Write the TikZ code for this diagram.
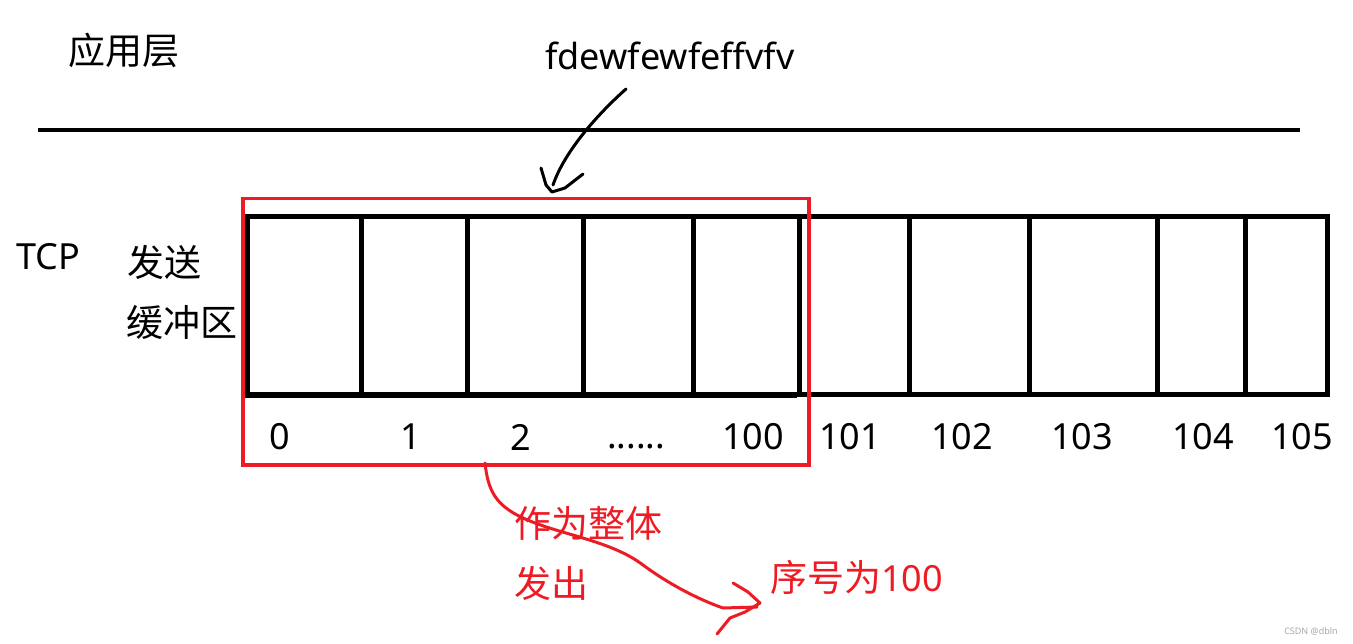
\documentclass[tikz,border=0pt]{standalone}
\usepackage{fontspec}
\setmainfont{Noto Sans}
\newfontfamily\cjk{Noto Sans CJK SC}
\definecolor{pred}{RGB}{237,28,36}
\tikzset{
  big/.style={font=\fontsize{36}{40}\selectfont, inner sep=0pt},
  bigcjk/.style={font=\cjk\fontsize{37}{40}\selectfont, inner sep=0pt},
  cellbox/.style={draw=black, line width=5pt, minimum height=178pt, anchor=north west, inner sep=0pt},
  redline/.style={draw=pred, line width=3.5pt},
  hand/.style={line width=3pt, line cap=round, line join=round},
}
\begin{document}
\begin{tikzpicture}[x=1pt,y=-1pt]
\useasboundingbox (0,0) rectangle (1353,644);
% top separator line
\coordinate (sepL) at (38,130);
\coordinate (sepR) at (1300,130);
\draw[line width=4pt] (sepL) -- (sepR);
% texts
\node[bigcjk] (app) at (124,50) {应用层};
\node[big] (data) at (670,56) {fdewfewfeffvfv};
\node[big] (tcp) at (48,257) {TCP};
\node[bigcjk] (send) at (164,262) {发送};
\node[bigcjk] (buf) at (182,323) {缓冲区};
% cells
\foreach \a/\b/\n in {245/359/0,359/465/1,465/581/2,581/691/3,691/797/4,797/907/5,907/1027/6,1027/1155/7,1155/1243/8,1243/1325/9}{
  \pgfmathsetmacro{\w}{\b-\a}
  \node[cellbox, minimum width=\w pt] (c\n) at (\a,214) {};
}
\draw[line width=4pt] (c0.south west) ++(0,-1) -- ++(552,0);
% labels
\node[big] (l0) at (280,437) {0};
\node[big] (l1) at (411,437) {1};
\node[big] (l2) at (521,437) {2};
\node[big, anchor=base] (ld) at (636,449) {......};
\node[big] (l100) at (753,437) {100};
\node[big] (l101) at (850,437) {101};
\node[big] (l102) at (962,437) {102};
\node[big] (l103) at (1082,437) {103};
\node[big] (l104) at (1203,437) {104};
\node[big] (l105) at (1302,437) {105};
% red frame
\node[redline, minimum width=566pt, minimum height=266pt, anchor=north west, inner sep=0pt] (frame) at (241,197) {};
% black hand arrow
\coordinate (bs) at (626,89);
\coordinate (be) at (553,185);
\draw[hand] (bs) .. controls (600,112) and (565,150) .. (be);
\draw[hand] (541,168) -- (546,185) -- (552,192) -- (565,188) -- (583,174);
% red hand arrow
\coordinate (rs) at (485,463);
\coordinate (re) at (757,607);
\draw[hand, draw=pred] (rs) .. controls (488,490) and (495,505) .. (523,518)
  .. controls (560,535) and (610,540) .. (643,565)
  .. controls (670,585) and (700,600) .. (723,608) -- (re);
\draw[hand, draw=pred] (733,583) -- (748,592) -- (760,603) -- (745,612) -- (730,618) -- (717,634);
% red texts
\node[bigcjk, text=pred] (whole) at (588,523) {作为整体};
\node[bigcjk, text=pred] (out) at (551,583) {发出};
\node[big, text=pred, anchor=west] (seq) at (770,577) {{\cjk\fontsize{37}{40}\selectfont 序号为}100};
% watermark
\node[font=\fontsize{9}{10}\selectfont, text=gray!70, inner sep=0pt] (wm) at (1311,631) {CSDN @dbln};
\end{tikzpicture}
\end{document}
